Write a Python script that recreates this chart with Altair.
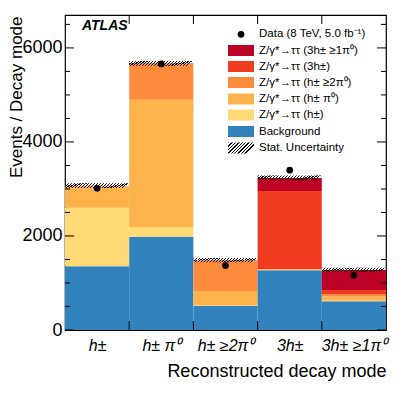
import altair as alt
import pandas as pd

modes = ["h\u00b1", "h\u00b1 \u03c0\u2070", "h\u00b1 \u22652\u03c0\u2070", "3h\u00b1", "3h\u00b1 \u22651\u03c0\u2070"]
background = [1355, 1985, 510, 1270, 610]
z_h = [1245, 205, 10, 5, 10]
z_hpi0 = [460, 2710, 310, 10, 90]
z_h2pi0 = [10, 760, 645, 15, 50]
z_3h = [0, 5, 5, 1657, 90]
z_3hpi0 = [0, 5, 5, 277, 427]
data_obs = [3015, 5660, 1370, 3400, 1163]
stat_unc = [50, 50, 45, 50, 45]

comp_names = ["Background", "h", "hpi0", "h2pi0", "3h", "3hpi0"]
comp_vals = [background, z_h, z_hpi0, z_h2pi0, z_3h, z_3hpi0]
comp_colors = ["#3182bd", "#fed976", "#feb24c", "#fd8d3c", "#f03b20", "#bd0026"]

W, H = 321, 315
YMAX = 6700
FONT = "Liberation Sans"

rows = []
totals = []
for i in range(len(modes)):
    lo = 0
    for name, vals in zip(comp_names, comp_vals):
        rows.append(dict(x0=i, x1=i + 1, lo=lo, hi=lo + vals[i], comp=name))
        lo += vals[i]
    totals.append(lo)
stack = pd.DataFrame(rows)
summary = pd.DataFrame(dict(x0=list(range(5)), x1=[i + 1 for i in range(5)], xc=[i + 0.5 for i in range(5)],
                            tot=totals, data=data_obs,
                            ulo=[t - u for t, u in zip(totals, stat_unc)],
                            uhi=[t + u for t, u in zip(totals, stat_unc)]))

xscale = alt.Scale(domain=[0, 5], nice=False, zero=False)
yscale = alt.Scale(domain=[0, YMAX], nice=False)

label_expr = "[" + ",".join("'" + m + "'" for m in modes) + "][floor(datum.value)]"

bars = alt.Chart(stack).mark_rect().encode(
    x=alt.X("x0:Q", scale=xscale,
            axis=alt.Axis(values=[0.5, 1.5, 2.5, 3.5, 4.5], labelExpr=label_expr, ticks=False, domain=False,
                          grid=False, labelFontSize=16, labelFontStyle="italic", labelFont=FONT,
                          labelPadding=7, labelColor="black",
                          title="Reconstructed decay mode", titleFont=FONT, titleFontSize=18,
                          titleFontWeight="normal", titleAnchor="end", titlePadding=9, titleColor="black")),
    x2="x1:Q",
    y=alt.Y("lo:Q", scale=yscale,
            axis=alt.Axis(values=[0, 2000, 4000, 6000], format="d", ticks=False, domain=False, grid=False,
                          labelFontSize=18, labelFont=FONT, labelPadding=3, labelColor="black",
                          title="Events / Decay mode", titleFont=FONT, titleFontSize=17,
                          titleFontWeight="normal", titleX=-49, titleY=1, titleAngle=-90,
                          titleAlign="right", titleBaseline="middle", titleColor="black")),
    y2="hi:Q",
    color=alt.Color("comp:N", scale=alt.Scale(domain=comp_names, range=comp_colors), legend=None),
)


def hatch(n, h_over_w, frac=0.4):
    stops = []
    for k in range(n):
        a = k / n
        b = (k + frac) / n
        c = (k + 1) / n
        stops += [alt.GradientStop(color="#000000", offset=a), alt.GradientStop(color="#000000", offset=b),
                  alt.GradientStop(color="rgba(255,255,255,0)", offset=b),
                  alt.GradientStop(color="rgba(255,255,255,0)", offset=min(c, 1.0))]
    return alt.LinearGradient(gradient="linear", stops=stops, x1=0, y1=0, x2=1, y2=h_over_w)


unc = alt.Chart(summary).mark_rect(fill=hatch(22, 0.08)).encode(
    x=alt.X("x0:Q", scale=xscale), x2="x1:Q",
    y=alt.Y("ulo:Q", scale=yscale), y2="uhi:Q")

pts = alt.Chart(summary).mark_point(filled=True, color="black", size=45, opacity=1, shape="circle").encode(
    x=alt.X("xc:Q", scale=xscale), y=alt.Y("data:Q", scale=yscale))

minor_vals = [v for v in range(0, YMAX, 500) if v % 2000 != 0]
major_vals = [0, 2000, 4000, 6000]
ymaj = pd.DataFrame(dict(v=major_vals))
ymin = pd.DataFrame(dict(v=minor_vals))
xb = pd.DataFrame(dict(v=[1, 2, 3, 4]))

tick_layers = []
for df, ln in [(ymaj, 9), (ymin, 5)]:
    tick_layers.append(alt.Chart(df).mark_rule(color="black", strokeWidth=1).encode(
        y=alt.Y("v:Q", scale=yscale), x=alt.value(0), x2=alt.value(ln)))
    tick_layers.append(alt.Chart(df).mark_rule(color="black", strokeWidth=1).encode(
        y=alt.Y("v:Q", scale=yscale), x=alt.value(W - ln), x2=alt.value(W)))
tick_layers.append(alt.Chart(xb).mark_rule(color="black", strokeWidth=1).encode(
    x=alt.X("v:Q", scale=xscale), y=alt.value(0), y2=alt.value(9)))
tick_layers.append(alt.Chart(xb).mark_rule(color="black", strokeWidth=1).encode(
    x=alt.X("v:Q", scale=xscale), y=alt.value(H - 9), y2=alt.value(H)))

atlas = alt.Chart(summary.head(1)).mark_text(text="ATLAS", font=FONT, fontSize=14, fontWeight="bold",
                                             fontStyle="italic", align="left", baseline="middle",
                                             color="black").encode(x=alt.value(17), y=alt.value(11))

main = alt.layer(bars, unc, pts, *tick_layers, atlas)

# legend
leg_labels = ["Data (8 TeV, 5.0 fb\u207b\u00b9)",
              "Z/\u03b3*\u2192\u03c4\u03c4 (3h\u00b1 \u22651\u03c0\u2070)",
              "Z/\u03b3*\u2192\u03c4\u03c4 (3h\u00b1)",
              "Z/\u03b3*\u2192\u03c4\u03c4 (h\u00b1 \u22652\u03c0\u2070)",
              "Z/\u03b3*\u2192\u03c4\u03c4 (h\u00b1 \u03c0\u2070)",
              "Z/\u03b3*\u2192\u03c4\u03c4 (h\u00b1)",
              "Background",
              "Stat. Uncertainty"]
leg_kind = ["data", "fill", "fill", "fill", "fill", "fill", "fill", "hatch"]
leg_color = ["#000000", "#bd0026", "#f03b20", "#fd8d3c", "#feb24c", "#fed976", "#3182bd", "#000000"]
leg_y = [19.3, 35.5, 51.5, 67.5, 84, 100, 116.5, 133]
leg = pd.DataFrame(dict(label=leg_labels, kind=leg_kind, col=leg_color, y=leg_y))
leg["ya"] = leg["y"] - 5.5
leg["yb"] = leg["y"] + 5.5

leg_rect = alt.Chart(leg).transform_filter("datum.kind == 'fill'").mark_rect().encode(
    x=alt.value(163), x2=alt.value(189),
    y=alt.Y("ya:Q", scale=None, axis=None), y2="yb:Q",
    fill=alt.Fill("col:N", scale=None))
leg_hatch = alt.Chart(leg).transform_filter("datum.kind == 'hatch'").mark_rect(fill=hatch(9, 0.42)).encode(
    x=alt.value(163), x2=alt.value(189),
    y=alt.Y("ya:Q", scale=None, axis=None), y2="yb:Q")
leg_pt = alt.Chart(leg).transform_filter("datum.kind == 'data'").mark_point(
    filled=True, color="black", size=45, opacity=1, shape="circle").encode(
    x=alt.value(176), y=alt.Y("y:Q", scale=None, axis=None))
leg_txt = alt.Chart(leg).mark_text(align="left", baseline="middle", font=FONT, fontSize=11.5,
                                   color="black").encode(
    x=alt.value(194), y=alt.Y("y:Q", scale=None, axis=None), text="label:N")

legend = alt.layer(leg_rect, leg_hatch, leg_pt, leg_txt)

chart = alt.layer(main, legend).resolve_scale(x="independent", y="independent").properties(
    width=W, height=H,
    autosize=alt.AutoSizeParams(type="none"),
    padding={"left": 57, "top": 7, "right": 13, "bottom": 55},
).configure_view(stroke="black", strokeWidth=1.2)

chart.save("out.html", embed_options={"renderer": "svg", "actions": False})
